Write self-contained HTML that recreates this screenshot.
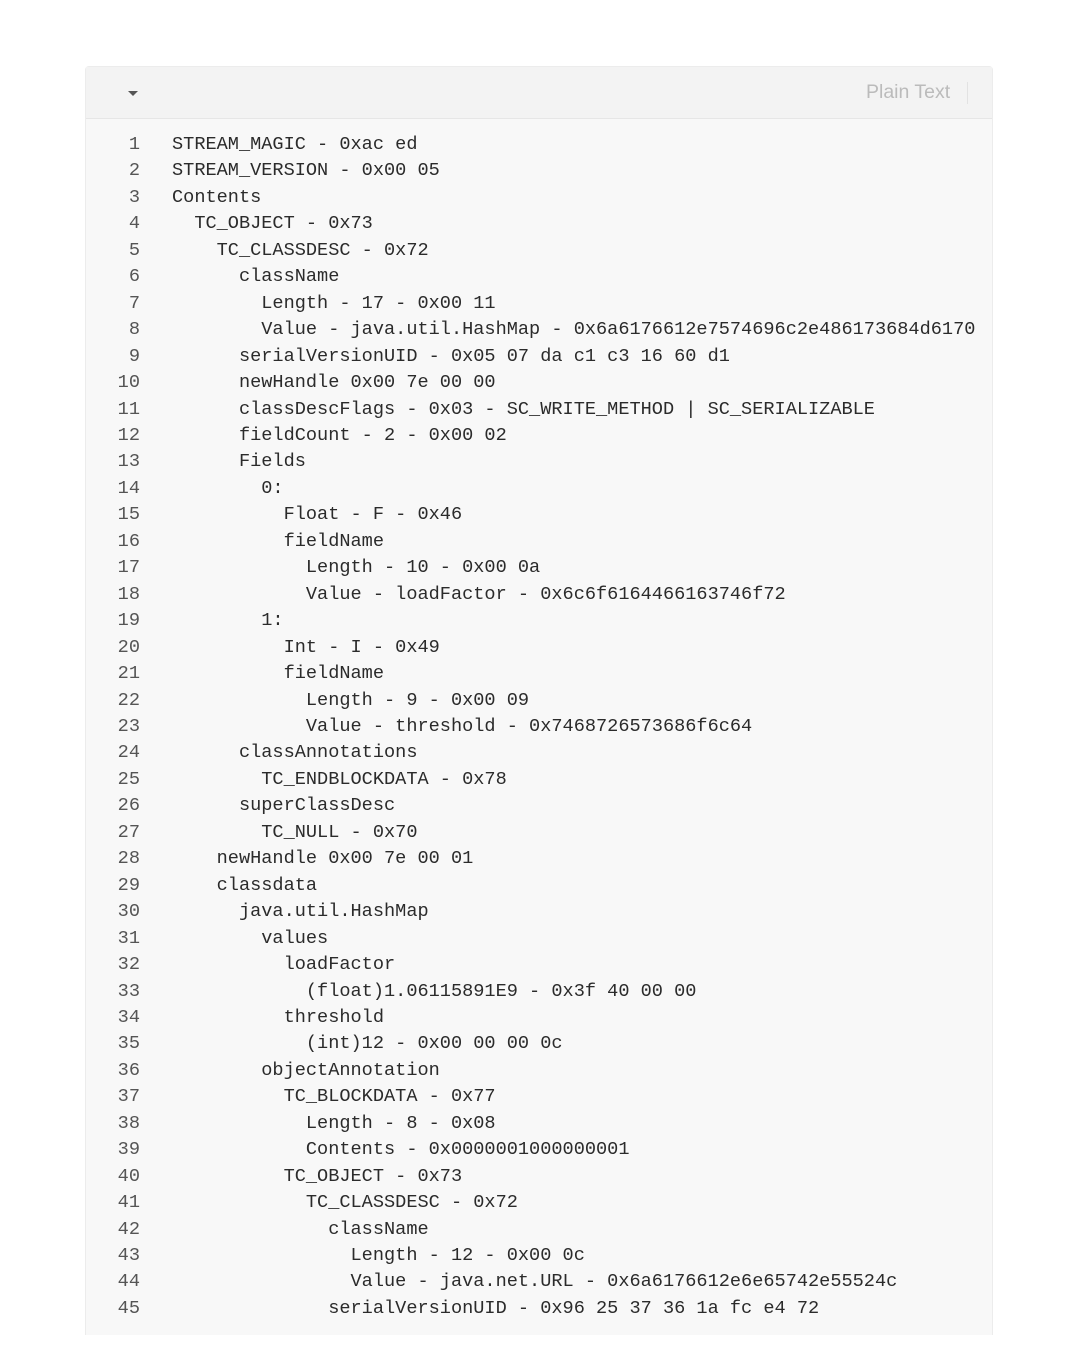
<!DOCTYPE html>
<html><head><meta charset="utf-8"><style>
body{margin:0;width:1080px;height:1354px;background:#fff;position:relative;overflow:hidden}
.box{position:absolute;left:85px;top:66px;width:906px;height:1268px;background:#f8f8f8;border:1px solid #ececec;border-bottom:none;border-radius:4px 4px 0 0}
.hdr{position:absolute;left:0;top:0;width:906px;height:51px;background:#f3f3f3;border-bottom:1px solid #e6e6e6}
.tri{position:absolute;left:42px;top:24px;width:0;height:0;border-left:5px solid transparent;border-right:5px solid transparent;border-top:5px solid #555}
.pt{position:absolute;left:780px;top:14px;font:19.5px "Liberation Sans",sans-serif;color:#bbb}
.sep{position:absolute;left:881px;top:15px;width:1px;height:22px;background:#e2e2e2}
.nums{position:absolute;left:100px;top:132px;width:40px;text-align:right;font:18.6px/26.45px "Liberation Mono",monospace;color:#555;white-space:pre}
.code{position:absolute;left:172px;top:132px;font:18.6px/26.45px "Liberation Mono",monospace;color:#2b2b2b;white-space:pre}
</style></head><body>
<div class="box"><div class="hdr"><div class="tri"></div><div class="pt">Plain Text</div><div class="sep"></div></div></div>
<div class="nums">1
2
3
4
5
6
7
8
9
10
11
12
13
14
15
16
17
18
19
20
21
22
23
24
25
26
27
28
29
30
31
32
33
34
35
36
37
38
39
40
41
42
43
44
45</div>
<div class="code">STREAM_MAGIC - 0xac ed
STREAM_VERSION - 0x00 05
Contents
  TC_OBJECT - 0x73
    TC_CLASSDESC - 0x72
      className
        Length - 17 - 0x00 11
        Value - java.util.HashMap - 0x6a6176612e7574696c2e486173684d6170
      serialVersionUID - 0x05 07 da c1 c3 16 60 d1
      newHandle 0x00 7e 00 00
      classDescFlags - 0x03 - SC_WRITE_METHOD | SC_SERIALIZABLE
      fieldCount - 2 - 0x00 02
      Fields
        0:
          Float - F - 0x46
          fieldName
            Length - 10 - 0x00 0a
            Value - loadFactor - 0x6c6f6164466163746f72
        1:
          Int - I - 0x49
          fieldName
            Length - 9 - 0x00 09
            Value - threshold - 0x7468726573686f6c64
      classAnnotations
        TC_ENDBLOCKDATA - 0x78
      superClassDesc
        TC_NULL - 0x70
    newHandle 0x00 7e 00 01
    classdata
      java.util.HashMap
        values
          loadFactor
            (float)1.06115891E9 - 0x3f 40 00 00
          threshold
            (int)12 - 0x00 00 00 0c
        objectAnnotation
          TC_BLOCKDATA - 0x77
            Length - 8 - 0x08
            Contents - 0x0000001000000001
          TC_OBJECT - 0x73
            TC_CLASSDESC - 0x72
              className
                Length - 12 - 0x00 0c
                Value - java.net.URL - 0x6a6176612e6e65742e55524c
              serialVersionUID - 0x96 25 37 36 1a fc e4 72</div>
</body></html>
